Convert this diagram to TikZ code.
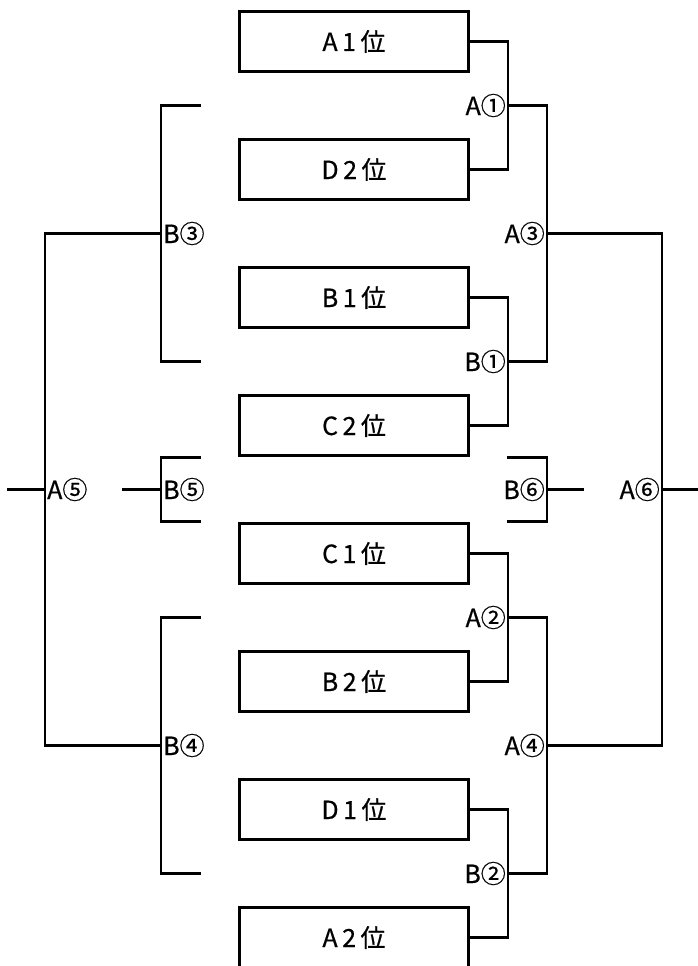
\documentclass[tikz,border=0pt]{standalone}
\usepackage{fontspec}
\setmainfont{Noto Sans CJK JP}
\usepackage{tikz}
\usetikzlibrary{positioning, calc}
\definecolor{mydark}{RGB}{0,0,0}
\tikzset{
  seed/.style={rectangle, draw=mydark, line width=2.8pt,
    minimum width=229pt, minimum height=60pt, inner sep=0pt, outer sep=0pt,
    font=\fontsize{25}{25}\selectfont\addfontfeature{LetterSpace=18, FakeBold=0.6}},
  tag/.style={inner sep=2pt, font=\fontsize{25}{25}\selectfont\addfontfeature{FakeBold=0.6}, color=mydark},
  link/.style={line width=2.8pt, color=mydark}
}

\begin{document}
\begin{tikzpicture}[x=1pt, y=-1pt, node distance=68pt]
  \useasboundingbox (0,0) rectangle (697,966);

  % Seeds
  \node[seed] (a1) at (354,41.5) {A1位};
  \node[seed, below=of a1] (d2) {D2位};
  \node[seed, below=of d2] (b1) {B1位};
  \node[seed, below=of b1] (c2) {C2位};
  \node[seed, below=of c2] (c1) {C1位};
  \node[seed, below=of c1] (b2) {B2位};
  \node[seed, below=of b2] (d1) {D1位};
  \node[seed, below=of d1] (a2) {A2位};

  % Round 1
  \foreach \u/\v/\m/\t in {a1/d2/ma1/A①, b1/c2/mb1/B①, c1/b2/ma2/A②, d1/a2/mb2/B②}{
    \coordinate (\m) at ($(\u.east)!.5!(\v.east)+(39.5,0)$);
    \draw[link] (\u.east) -| (\m) |- (\v.east);
    \node[tag, anchor=east] (t\m) at (\m) {\t};
  }

  % Round 2 (right)
  \coordinate (ra3) at ($(ma1)!.5!(mb1)+(39,0)$);
  \coordinate (ra4) at ($(ma2)!.5!(mb2)+(39,0)$);
  \draw[link] (ma1) -| (ra3) |- (mb1);
  \draw[link] (ma2) -| (ra4) |- (mb2);
  \node[tag, anchor=east] (tra3) at (ra3) {A③};
  \node[tag, anchor=east] (tra4) at (ra4) {A④};

  % Final A (right)
  \coordinate (ra6) at ($(ra3)!.5!(ra4)+(115,0)$);
  \coordinate (ra6o) at ($(ra6)+(37,0)$);
  \draw[link] (ra3) -| (ra6) |- (ra4);
  \draw[link] (ra6) -- (ra6o);
  \node[tag, anchor=east] (tra6) at (ra6) {A⑥};

  % B6 (right)
  \coordinate (rb6) at ($(c2.east)!.5!(c1.east)+(78.5,0)$);
  \coordinate (rb6t) at ($(rb6)+(-40,-32)$);
  \coordinate (rb6b) at ($(rb6)+(-40,32)$);
  \coordinate (rb6o) at ($(rb6)+(37,0)$);
  \draw[link] (rb6t) -| (rb6) |- (rb6b);
  \draw[link] (rb6) -- (rb6o);
  \node[tag, anchor=east] (trb6) at (rb6) {B⑥};

  % B3, B4 (left)
  \coordinate (lb3) at (161,233.5);
  \coordinate (lb4) at (161,745.5);
  \coordinate (lb3t) at (201,105.5);
  \coordinate (lb3b) at (201,361.5);
  \coordinate (lb4t) at (201,617.5);
  \coordinate (lb4b) at (201,873.5);
  \draw[link] (lb3t) -| (lb3) |- (lb3b);
  \draw[link] (lb4t) -| (lb4) |- (lb4b);
  \node[tag, anchor=west] (tlb3) at (lb3) {B③};
  \node[tag, anchor=west] (tlb4) at (lb4) {B④};

  % Final A (left)
  \coordinate (la5) at (45,489.5);
  \coordinate (la5o) at (7,489.5);
  \draw[link] (lb3) -| (la5) |- (lb4);
  \draw[link] (la5) -- (la5o);
  \node[tag, anchor=west] (tla5) at (la5) {A⑤};

  % B5 (left)
  \coordinate (lb5) at (161,489.5);
  \coordinate (lb5t) at (201,457.5);
  \coordinate (lb5b) at (201,521.5);
  \coordinate (lb5o) at (122,489.5);
  \draw[link] (lb5t) -| (lb5) |- (lb5b);
  \draw[link] (lb5) -- (lb5o);
  \node[tag, anchor=west] (tlb5) at (lb5) {B⑤};
\end{tikzpicture}
\end{document}
